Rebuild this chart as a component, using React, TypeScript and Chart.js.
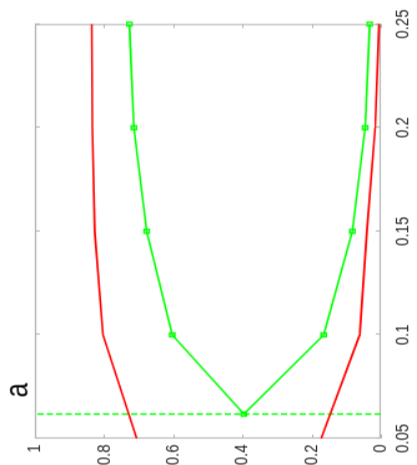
import React, { useEffect, useRef } from 'react';
import { Chart, registerables } from 'chart.js';
Chart.register(...registerables);

const xTickValues = [0.05, 0.1, 0.15, 0.2, 0.25];
const xTickLabels = ['0.05', '0.1', '0.15', '0.2', '0.25'];
const yTickValues = [0, 0.2, 0.4, 0.6, 0.8, 1];
const yTickLabels = ['0', '0.2', '0.4', '0.6', '0.8', '1'];

const greenX = [0.0618, 0.1, 0.15, 0.2, 0.25];
const greenUpper = [0.396, 0.603, 0.677, 0.714, 0.727];
const greenLower = [0.396, 0.165, 0.082, 0.045, 0.032];
const redX = [0.05, 0.1, 0.15, 0.2, 0.25];
const redUpper = [0.706, 0.803, 0.827, 0.834, 0.836];
const redLower = [0.172, 0.061, 0.04, 0.016, 0.005];
const dashX = [0.0618, 0.0618];
const dashY = [0, 1];
const panelLabel = 'a';

const FONT = "'Liberation Sans', Arial, Helvetica, sans-serif";
const W = 465;
const H = 334;
const S = 417 / H;

const pts = (xs: number[], ys: number[]) => xs.map((x, i) => ({ x, y: ys[i] }));

const boxPlugin = {
  id: 'boxPlugin',
  beforeDatasetsDraw(chart: any) {
    const { ctx, chartArea: a, scales } = chart;
    ctx.save();
    ctx.strokeStyle = '#b4b4b4';
    ctx.lineWidth = 1.2;
    ctx.strokeRect(a.left + 0.5, a.top + 0.5, a.right - a.left - 1, a.bottom - a.top - 1);
    const tl = 4;
    ctx.beginPath();
    xTickValues.forEach((v) => {
      const px = Math.round(scales.x.getPixelForValue(v)) + 0.5;
      ctx.moveTo(px, a.bottom);
      ctx.lineTo(px, a.bottom - tl);
      ctx.moveTo(px, a.top);
      ctx.lineTo(px, a.top + tl);
    });
    yTickValues.forEach((v) => {
      const py = Math.round(scales.y.getPixelForValue(v)) + 0.5;
      ctx.moveTo(a.left, py);
      ctx.lineTo(a.left + tl, py);
      ctx.moveTo(a.right, py);
      ctx.lineTo(a.right - tl, py);
    });
    ctx.stroke();
    ctx.restore();
  },
  afterDraw(chart: any) {
    const { ctx, chartArea: a } = chart;
    ctx.save();
    ctx.fillStyle = '#000';
    ctx.font = `26px ${FONT}`;
    ctx.textBaseline = 'alphabetic';
    ctx.textAlign = 'left';
    ctx.fillText(panelLabel, a.left + 41, a.top - 6.5);
    ctx.restore();
  },
};

export default function App() {
  const ref = useRef<HTMLCanvasElement | null>(null);
  useEffect(() => {
    if (!ref.current) return;
    const green = '#00ff00';
    const red = '#ff0000';
    const lineCommon = { borderWidth: 1.6, tension: 0, clip: false as any, showLine: true };
    const marker = {
      pointStyle: 'rect', pointRadius: 2.8, pointBorderColor: green,
      pointBackgroundColor: 'rgba(255,255,255,0)', pointBorderWidth: 1.4,
    };
    const chart = new Chart(ref.current, {
      type: 'scatter',
      data: {
        datasets: [
          { ...lineCommon, data: pts(redX, redUpper), borderColor: red, pointRadius: 0 },
          { ...lineCommon, data: pts(redX, redLower), borderColor: red, pointRadius: 0 },
          { ...lineCommon, ...marker, data: pts(greenX, greenUpper), borderColor: green },
          { ...lineCommon, ...marker, data: pts(greenX, greenLower), borderColor: green },
          { ...lineCommon, data: pts(dashX, dashY), borderColor: green, borderDash: [5, 2.5], pointRadius: 0 },
        ],
      },
      options: {
        animation: false,
        responsive: true,
        maintainAspectRatio: false,
        layout: { padding: { top: 28, right: 20, left: 0, bottom: 0 } },
        plugins: { legend: { display: false }, tooltip: { enabled: false }, title: { display: false } },
        events: [],
        scales: {
          x: {
            type: 'linear', min: 0.05, max: 0.25,
            grid: { display: false, drawTicks: false },
            border: { display: false },
            afterBuildTicks: (s: any) => { s.ticks = xTickValues.map((v) => ({ value: v })); },
            afterFit: (s: any) => { s.height = 29; },
            ticks: {
              padding: 9, maxRotation: 0, minRotation: 0, color: '#262626',
              font: { family: FONT, size: 15 },
              callback: (v: any) => { const i = xTickValues.findIndex((t) => Math.abs(t - v) < 1e-9); return i >= 0 ? xTickLabels[i] : ''; },
            },
          },
          y: {
            type: 'linear', min: 0, max: 1,
            grid: { display: false, drawTicks: false },
            border: { display: false },
            afterBuildTicks: (s: any) => { s.ticks = yTickValues.map((v) => ({ value: v })); },
            afterFit: (s: any) => { s.width = 27; },
            ticks: {
              padding: 6, color: '#262626',
              font: { family: FONT, size: 15 },
              callback: (v: any) => { const i = yTickValues.findIndex((t) => Math.abs(t - v) < 1e-9); return i >= 0 ? yTickLabels[i] : ''; },
            },
          },
        },
      },
      plugins: [boxPlugin],
    } as any);
    return () => chart.destroy();
  }, []);
  return (
    <div
      style={{
        position: 'fixed',
        left: 417 / 2 - W / 2,
        top: 465 / 2 - H / 2,
        width: W,
        height: H,
        transform: `rotate(-90deg) scaleY(${S})`,
        transformOrigin: 'center center',
      }}
    >
      <canvas ref={ref} />
    </div>
  );
}
